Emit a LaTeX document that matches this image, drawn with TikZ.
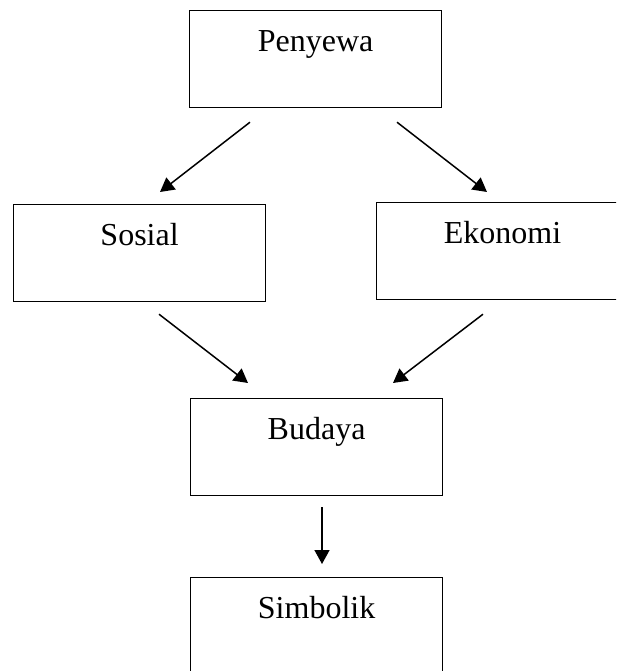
\documentclass[tikz,border=0pt]{standalone}
\usepackage{fontspec}
\setmainfont{Liberation Serif}
\usetikzlibrary{arrows.meta,calc}
\begin{document}
\begin{tikzpicture}[x=1pt,y=-1pt,
  box/.style={draw=black, line width=1.2pt, rectangle, minimum width=252pt,
    inner xsep=0pt, inner ysep=0pt, text height=41pt, text depth=56pt,
    font=\fontsize{32}{38}\selectfont, anchor=north west},
  conn/.style={line width=1.5pt, -{Triangle[length=14pt,width=15pt]}}]
\useasboundingbox (0,0) rectangle (616,671);
\clip (0,0) rectangle (616,671);
\node[box] (pen) at (189,10) {Penyewa};
\node[box] (sos) at (13,204) {Sosial};
\node[box] (eko) at (376,202) {Ekonomi};
\node[box] (bud) at (190,398) {Budaya};
\node[box] (sim) at (190,577) {Simbolik};
\coordinate (p1) at ($(pen.south west)+(61,14)$);
\coordinate (p2) at ($(pen.south west)+(208,14)$);
\coordinate (s1) at ($(sos.south west)+(146,12)$);
\coordinate (e1) at ($(eko.south west)+(107,14)$);
\coordinate (b1) at ($(bud.south west)+(132,11)$);
\draw[conn] (p1) -- ($(sos.north west)+(147,-12)$) coordinate (st);
\draw[conn] (p2) -- ($(eko.north west)+(111,-10)$) coordinate (et);
\draw[conn] (s1) -- ($(bud.north west)+(58,-15)$) coordinate (bt1);
\draw[conn] (e1) -- ($(bud.north west)+(203,-15)$) coordinate (bt2);
\draw[conn] (b1) -- ($(sim.north west)+(132,-13)$) coordinate (smt);
\end{tikzpicture}
\end{document}
